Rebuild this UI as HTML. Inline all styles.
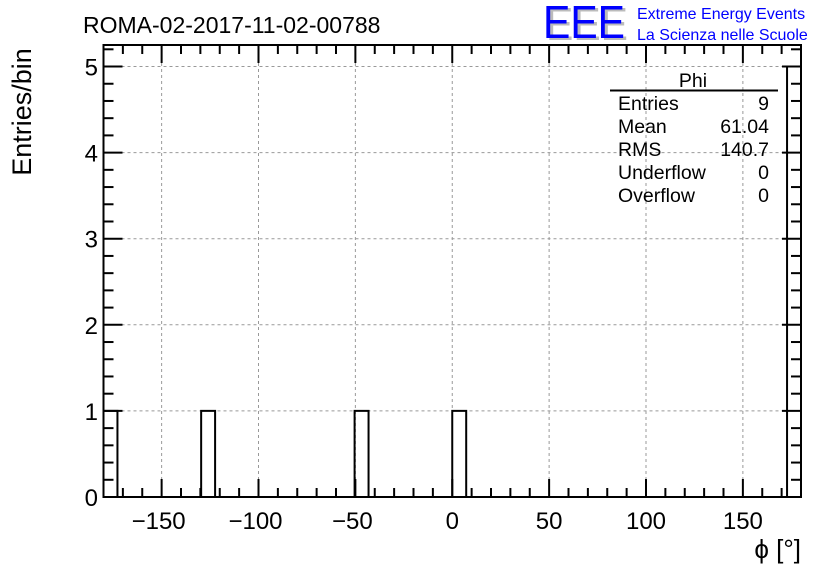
<!DOCTYPE html>
<html><head><meta charset="utf-8"><style>
body{margin:0;background:#fff;}
svg{display:block;font-family:"Liberation Sans",sans-serif;}
</style></head><body>
<svg id="c" width="836" height="572">
<g id="grid"></g>
<g id="bars"></g>
<g id="axes"></g>
<text x="83" y="33" font-size="23">ROMA-02-2017-11-02-00788</text>
<g>
<text x="546" y="40" font-size="46" fill="#bbb" textLength="82" lengthAdjust="spacingAndGlyphs">EEE</text>
<text x="543" y="38" font-size="46" fill="#0000ff" textLength="82" lengthAdjust="spacingAndGlyphs">EEE</text>
<text x="637" y="19" font-size="16" fill="#0000ff">Extreme Energy Events</text>
<text x="637" y="40" font-size="16" fill="#0000ff">La Scienza nelle Scuole</text>
</g>
<text transform="translate(31,112) rotate(-90)" text-anchor="middle" font-size="27">Entries/bin</text>
<text x="801" y="558" text-anchor="end" font-size="26">ϕ [°]</text>
<g font-size="19.5">
<text x="693" y="87" text-anchor="middle">Phi</text>
<line x1="610" y1="90.5" x2="778" y2="90.5" stroke="#000" stroke-width="2"/>
<text x="618" y="110">Entries</text><text x="769" y="110" text-anchor="end">9</text>
<text x="618" y="133">Mean</text><text x="769" y="133" text-anchor="end">61.04</text>
<text x="618" y="156">RMS</text><text x="769" y="156" text-anchor="end">140.7</text>
<text x="618" y="179">Underflow</text><text x="769" y="179" text-anchor="end">0</text>
<text x="618" y="202">Overflow</text><text x="769" y="202" text-anchor="end">0</text>
</g>
</svg>
<script>
const binEdgesMin=-180, binEdgesMax=180, nBins=50;
const filledBins=[0,7,18,25,49];
const binCounts=[1,1,1,1,5];
const xTicks=[-150,-100,-50,0,50,100,150];
const yTicks=[0,1,2,3,4,5];
const L=103.5,R=801,T=45,B=497,yMax=5.25;
const X=v=>L+(v-binEdgesMin)/(binEdgesMax-binEdgesMin)*(R-L);
const Y=v=>B-v/yMax*(B-T);
const NS="http://www.w3.org/2000/svg";
function mk(parent,tag,attrs){const e=document.createElementNS(NS,tag);for(const k in attrs)e.setAttribute(k,attrs[k]);document.getElementById(parent).appendChild(e);return e;}
xTicks.forEach(v=>{const e=mk('grid','line',{x1:X(v),x2:X(v),y1:T,y2:B,stroke:'#999','stroke-dasharray':'3,3','stroke-width':1});

});
yTicks.slice(1).forEach(v=>{const e=mk('grid','line',{x1:L,x2:R,y1:Y(v),y2:Y(v),stroke:'#999','stroke-dasharray':'3,3','stroke-width':1});

});
const w=(binEdgesMax-binEdgesMin)/nBins;
let counts=new Array(nBins).fill(0);
filledBins.forEach((b,i)=>counts[b]=binCounts[i]);
let d=`M${X(binEdgesMin)},${Y(0)}`;
for(let i=0;i<nBins;i++){const x0=X(binEdgesMin+i*w),x1=X(binEdgesMin+(i+1)*w),y=Y(counts[i]);d+=` L${x0},${y} L${x1},${y}`;}
d+=` L${X(binEdgesMax)},${Y(0)}`;
const h=mk('bars','path',{d:d,fill:'none',stroke:'#000','stroke-width':2});


const f=mk('axes','rect',{x:L,y:T,width:R-L,height:B-T,fill:'none',stroke:'#000','stroke-width':2});


for(let v=-180;v<=180;v+=10){const major=v%50===0;const len=major?18:9;
mk('axes','line',{x1:X(v),x2:X(v),y1:B,y2:B-len,stroke:'#000','stroke-width':2});
mk('axes','line',{x1:X(v),x2:X(v),y1:T,y2:T+len,stroke:'#000','stroke-width':2});}
xTicks.forEach(v=>{const t=mk('axes','text',{x:X(v)-(v<0?3:0),y:529,'text-anchor':'middle','font-size':24});t.textContent=(v<0?'\u2212'+(-v):v);

});
for(let v=0;v<=5.2001;v+=0.2){const major=Math.abs(v-Math.round(v))<1e-6;const len=major?19:10;
mk('axes','line',{x1:L,x2:L+len,y1:Y(v),y2:Y(v),stroke:'#000','stroke-width':2});
mk('axes','line',{x1:R,x2:R-len,y1:Y(v),y2:Y(v),stroke:'#000','stroke-width':2});}
yTicks.forEach(v=>{const t=mk('axes','text',{x:98,y:Y(v)+9,'text-anchor':'end','font-size':24});t.textContent=v;

});
</script>
</body></html>
